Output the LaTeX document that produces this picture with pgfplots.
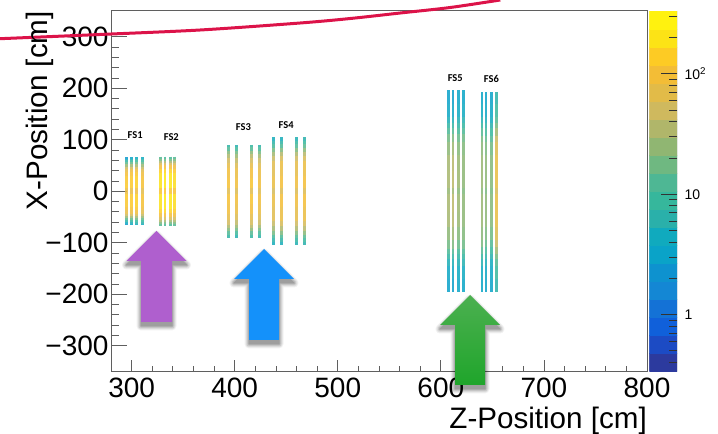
\documentclass[border=0pt]{standalone}
\usepackage{pgfplots}
\usepackage{pgfplotstable}
\usepackage{fontspec}
\setmainfont{Liberation Sans}
\newfontfamily\labfont{Carlito}
\pgfplotsset{compat=1.18}
\definecolor{b1}{RGB}{44,58,158}\definecolor{b2}{RGB}{28,75,196}\definecolor{b3}{RGB}{16,96,218}\definecolor{b4}{RGB}{20,114,214}
\definecolor{b5}{RGB}{20,135,212}\definecolor{b6}{RGB}{14,146,207}\definecolor{b7}{RGB}{10,163,200}\definecolor{b8}{RGB}{16,170,190}
\definecolor{b9}{RGB}{42,176,170}\definecolor{b10}{RGB}{54,183,156}\definecolor{b11}{RGB}{78,183,148}\definecolor{b12}{RGB}{111,184,129}
\definecolor{b13}{RGB}{144,182,114}\definecolor{b14}{RGB}{176,182,106}\definecolor{b15}{RGB}{207,185,94}\definecolor{b16}{RGB}{226,187,72}
\definecolor{b17}{RGB}{243,189,54}\definecolor{b18}{RGB}{253,203,36}\definecolor{b19}{RGB}{252,227,22}\definecolor{b20}{RGB}{255,242,15}
\definecolor{frame}{RGB}{95,95,95}
\pgfplotsset{colormap={fsmap}{color=(b1) color=(b2) color=(b3) color=(b4) color=(b5) color=(b6) color=(b7) color=(b8) color=(b9) color=(b10)
 color=(b11) color=(b12) color=(b13) color=(b14) color=(b15) color=(b16) color=(b17) color=(b18) color=(b19) color=(b20)}}
\pgfplotstableread{
y c1 c2 c3 c4
66 0.30 0.40 0.50 0.55
63 0.45 0.60 0.70 0.70
60 0.70 0.80 0.85 0.85
56 1.00 1.05 1.10 1.05
52 1.30 1.35 1.40 1.35
48 1.60 1.65 1.65 1.55
44 1.85 1.90 1.95 1.80
37 2.00 2.05 2.10 1.95
30 2.10 2.15 2.20 2.05
15 2.20 2.20 2.25 2.10
6 2.15 2.15 2.20 2.05
0 1.80 1.75 1.80 1.75
-6 2.15 2.15 2.20 2.05
-15 2.20 2.20 2.25 2.10
-30 2.10 2.15 2.20 2.05
-37 2.00 2.05 2.10 1.95
-44 1.85 1.90 1.95 1.80
-48 1.60 1.65 1.65 1.55
-52 1.30 1.35 1.40 1.35
-56 1.00 1.05 1.10 1.05
-60 0.70 0.80 0.85 0.85
-63 0.45 0.60 0.70 0.70
-66 0.30 0.40 0.50 0.55
}\fsone
\pgfplotstableread{
y c1 c2 c3 c4
67 1.05 0.95 0.95 1.05
63 1.20 1.15 1.15 1.20
59 1.45 1.40 1.40 1.45
55 1.70 1.65 1.65 1.65
50 1.95 1.95 1.95 1.90
43 2.15 2.15 2.15 2.10
35 2.30 2.35 2.35 2.25
15 2.40 2.45 2.45 2.35
6 2.35 2.40 2.40 2.30
0 1.90 1.90 1.90 1.90
-6 2.35 2.40 2.40 2.30
-15 2.40 2.45 2.45 2.35
-35 2.30 2.35 2.35 2.25
-43 2.15 2.15 2.15 2.10
-50 1.95 1.95 1.95 1.90
-55 1.70 1.65 1.65 1.65
-59 1.45 1.40 1.40 1.45
-63 1.20 1.15 1.15 1.20
-67 1.05 0.95 0.95 1.05
}\fstwo
\pgfplotstableread{
y c1 c2 c3 c4
90 0.75 0.65 0.80 0.70
85 0.95 0.85 1.00 0.90
78 1.25 1.15 1.25 1.15
72 1.45 1.35 1.50 1.40
65 1.65 1.55 1.70 1.60
55 1.85 1.75 1.85 1.80
45 1.98 1.92 1.98 1.92
25 2.08 2.02 2.12 2.02
6 2.08 2.02 2.12 2.02
0 1.65 1.65 1.65 1.70
-6 2.08 2.02 2.12 2.02
-25 2.08 2.02 2.12 2.02
-45 1.98 1.92 1.98 1.92
-55 1.85 1.75 1.85 1.80
-65 1.65 1.55 1.70 1.60
-72 1.45 1.35 1.50 1.40
-78 1.25 1.15 1.25 1.15
-85 0.95 0.85 1.00 0.90
-90 0.75 0.65 0.80 0.70
}\fsthree
\pgfplotstableread{
y c1 c2 c3 c4
105 0.60 0.60 0.65 0.70
98 0.72 0.75 0.80 0.85
91 0.90 0.95 1.00 1.05
84 1.15 1.20 1.20 1.25
77 1.40 1.45 1.45 1.50
68 1.60 1.70 1.65 1.70
58 1.78 1.88 1.82 1.88
30 1.95 2.05 2.00 2.05
6 1.95 2.05 2.00 2.05
0 1.60 1.65 1.65 1.65
-6 1.95 2.05 2.00 2.05
-30 1.95 2.05 2.00 2.05
-58 1.78 1.88 1.82 1.88
-68 1.60 1.70 1.65 1.70
-77 1.40 1.45 1.45 1.50
-84 1.15 1.20 1.20 1.25
-91 0.90 0.95 1.00 1.05
-98 0.72 0.75 0.80 0.85
-105 0.60 0.60 0.65 0.70
}\fsfour
\pgfplotstableread{
y c1 c2 c3 c4
196 0.42 0.40 0.45 0.48
170 0.48 0.48 0.52 0.52
145 0.62 0.62 0.65 0.68
132 0.78 0.78 0.78 0.82
122 0.98 0.98 0.92 0.98
112 1.18 1.22 1.12 1.18
95 1.35 1.40 1.30 1.30
70 1.45 1.55 1.42 1.38
40 1.58 1.65 1.50 1.42
20 1.48 1.60 1.45 1.38
6 1.58 1.65 1.50 1.42
0 1.30 1.30 1.25 1.25
-6 1.58 1.65 1.50 1.42
-20 1.48 1.60 1.45 1.38
-40 1.58 1.65 1.50 1.42
-70 1.45 1.55 1.42 1.38
-95 1.35 1.40 1.30 1.30
-112 1.18 1.22 1.12 1.18
-122 0.98 0.98 0.92 0.98
-132 0.78 0.78 0.78 0.82
-145 0.62 0.62 0.65 0.68
-170 0.48 0.48 0.52 0.52
-196 0.42 0.40 0.45 0.48
}\fsfive
\pgfplotstableread{
y c1 c2 c3 c4
192 0.48 0.45 0.45 0.75
170 0.52 0.48 0.48 0.88
145 0.68 0.62 0.58 1.05
132 0.82 0.75 0.70 1.20
122 1.00 0.90 0.85 1.38
108 1.25 1.12 1.02 1.62
95 1.35 1.25 1.20 1.80
70 1.42 1.38 1.32 1.90
40 1.50 1.42 1.38 1.98
20 1.42 1.38 1.32 1.90
6 1.50 1.42 1.38 1.98
0 1.25 1.20 1.20 1.60
-6 1.50 1.42 1.38 1.98
-20 1.42 1.38 1.32 1.90
-40 1.50 1.42 1.38 1.98
-70 1.42 1.38 1.32 1.90
-95 1.35 1.25 1.20 1.80
-108 1.25 1.12 1.02 1.62
-122 1.00 0.90 0.85 1.38
-132 0.82 0.75 0.70 1.20
-145 0.68 0.62 0.58 1.05
-170 0.52 0.48 0.48 0.88
-195 0.48 0.45 0.45 0.75
}\fssix
\pgfplotsset{strip/.style={mesh,no marks,point meta=explicit,line cap=butt,line width=2.9pt,opacity=0.85,forget plot}}
\newcommand{\strip}[3]{\addplot[strip] table[x expr=#1,y=y,meta=#3] {#2};}
\newcommand{\bigarrow}[8]{%
 % tip x, tip y, base y, half head, half shaft, bottom y, top colour, bottom colour
 \foreach \w/\o in {9pt/0.05,7pt/0.07,5pt/0.09,3pt/0.11,1pt/0.13}{
  \begin{scope}[transparency group,opacity=\o]
  \draw[black,line width=\w,line join=round,fill=black]
   (#1pt,430pt-#2pt)--(#1pt+#4pt,430pt-#3pt)--(#1pt+#5pt,430pt-#3pt)--(#1pt+#5pt,430pt-#6pt)--(#1pt-#5pt,430pt-#6pt)--(#1pt-#5pt,430pt-#3pt)--(#1pt-#4pt,430pt-#3pt)--cycle;
  \end{scope}}
 \shade[top color=#7,bottom color=#8]
   (#1pt,434pt-#2pt)--(#1pt+#4pt,434pt-#3pt)--(#1pt+#5pt,434pt-#3pt)--(#1pt+#5pt,434pt-#6pt)--(#1pt-#5pt,434pt-#6pt)--(#1pt-#5pt,434pt-#3pt)--(#1pt-#4pt,434pt-#3pt)--cycle;}
\begin{document}
\begin{tikzpicture}
\path[use as bounding box] (0,0) rectangle (718pt,434pt);
\begin{axis}[
 at={(111pt,62.5pt)},scale only axis,width=536pt,height=360.5pt,
 xmin=280,xmax=800,ymin=-350,ymax=350,clip=false,
 axis line style={frame,line width=1pt},
 tick align=inside,xtick pos=bottom,ytick pos=left,
 xtick={300,400,500,600,700,800},ytick={-300,-200,-100,0,100,200,300},
 xticklabels={300,400,500,600,700,800},
 yticklabels={−300,−200,−100,0,100,200,300},
 minor x tick num=4,minor y tick num=4,
 xtick style={/pgfplots/major tick length=11pt,/pgfplots/minor tick length=5pt,frame,line width=.8pt},
 ytick style={/pgfplots/major tick length=16pt,/pgfplots/minor tick length=8pt,frame,line width=.8pt},
 point meta min=-0.473,point meta max=2.522,
 tick label style={font=\fontsize{28}{28}\selectfont},
 xticklabel style={yshift=-3pt},
 yticklabel style={xshift=1pt},
 xlabel={Z-Position [cm]},ylabel={X-Position [cm]},
 label style={font=\fontsize{29.6}{29.6}\selectfont,inner sep=0pt},
 xlabel style={at={(axis description cs:1,-0.157)},anchor=base east},
 ylabel style={at={(axis description cs:-0.119,1)},anchor=base east},
]
\strip{295.2}{\fsone}{c1}\strip{299.7}{\fsone}{c2}\strip{305}{\fsone}{c3}\strip{310.4}{\fsone}{c4}
\strip{327.6}{\fstwo}{c1}\strip{332.4}{\fstwo}{c2}\strip{337.3}{\fstwo}{c3}\strip{341.8}{\fstwo}{c4}
\strip{394.2}{\fsthree}{c1}\strip{401.6}{\fsthree}{c2}\strip{416.2}{\fsthree}{c3}\strip{423.7}{\fsthree}{c4}
\strip{438}{\fsfour}{c1}\strip{445.3}{\fsfour}{c2}\strip{460.3}{\fsfour}{c3}\strip{467.4}{\fsfour}{c4}
\strip{607.5}{\fsfive}{c1}\strip{611.8}{\fsfive}{c2}\strip{617}{\fsfive}{c3}\strip{622}{\fsfive}{c4}
\strip{639.9}{\fssix}{c1}\strip{643.8}{\fssix}{c2}\strip{649}{\fssix}{c3}\strip{653.8}{\fssix}{c4}
\node[font=\labfont\bfseries\fontsize{10.5}{10.5}\selectfont] at (axis cs:303.5,109) {FS1};
\node[font=\labfont\bfseries\fontsize{10.5}{10.5}\selectfont] at (axis cs:338.5,105) {FS2};
\node[font=\labfont\bfseries\fontsize{10.5}{10.5}\selectfont] at (axis cs:408.5,125) {FS3};
\node[font=\labfont\bfseries\fontsize{10.5}{10.5}\selectfont] at (axis cs:450,129) {FS4};
\node[font=\labfont\bfseries\fontsize{10.5}{10.5}\selectfont] at (axis cs:614,220) {FS5};
\node[font=\labfont\bfseries\fontsize{10.5}{10.5}\selectfont] at (axis cs:649,218) {FS6};
\addplot[smooth,no marks,line width=3pt,color={rgb,255:red,220;green,19;blue,73},forget plot] coordinates {
 (172.2,296.2)(269.3,304.4)(366.4,313.1)(463.5,326.7)(512,335.4)(560.6,346.1)(609.1,356.8)(657.7,371.4)};
\end{axis}
\begin{axis}[
 at={(649.3pt,62.5pt)},scale only axis,width=27.7pt,height=360.5pt,
 xmin=0,xmax=1,ymode=log,ymin=0.3365,ymax=332.8,
 axis on top,axis line style={draw=none},
 xtick=\empty,ytick pos=right,tick align=inside,
 ytick={1,10,100},yticklabels={1,10,10\textsuperscript{2}},
 minor ytick={0.4,0.5,0.6,0.7,0.8,0.9,2,3,4,5,6,7,8,9,20,30,40,50,60,70,80,90,200,300},
 ytick style={/pgfplots/major tick length=16pt,/pgfplots/minor tick length=8pt,black!80,line width=.8pt},
 tick label style={font=\fontsize{14}{14}\selectfont},
 yticklabel style={xshift=4pt},
]
\newcommand{\band}[3]{\addplot[fill=#1,draw=#1,line width=.4pt,forget plot] coordinates {(0,#2)(1,#2)(1,#3)(0,#3)} --cycle;}
\band{b1}{0.3365}{0.4750}\band{b2}{0.4750}{0.6706}\band{b3}{0.6706}{0.9467}\band{b4}{0.9467}{1.336}
\band{b5}{1.336}{1.887}\band{b6}{1.887}{2.664}\band{b7}{2.664}{3.760}\band{b8}{3.760}{5.309}
\band{b9}{5.309}{7.495}\band{b10}{7.495}{10.58}\band{b11}{10.58}{14.94}\band{b12}{14.94}{21.09}
\band{b13}{21.09}{29.77}\band{b14}{29.77}{42.03}\band{b15}{42.03}{59.34}\band{b16}{59.34}{83.77}
\band{b17}{83.77}{118.3}\band{b18}{118.3}{167.0}\band{b19}{167.0}{235.7}\band{b20}{235.7}{332.8}
\draw[gray,line width=1pt] (rel axis cs:1,0)--(rel axis cs:1,1);
\end{axis}
\bigarrow{156.5}{231}{261}{30}{15.5}{322}{{rgb,255:red,175;green,95;blue,206}}{{rgb,255:red,175;green,95;blue,206}}
\bigarrow{264}{249}{279}{30}{15}{340}{{rgb,255:red,20;green,145;blue,250}}{{rgb,255:red,20;green,145;blue,250}}
\bigarrow{470}{295}{325}{30}{15}{385}{{rgb,255:red,76;green,176;blue,80}}{{rgb,255:red,31;green,165;blue,43}}
\end{tikzpicture}
\end{document}
